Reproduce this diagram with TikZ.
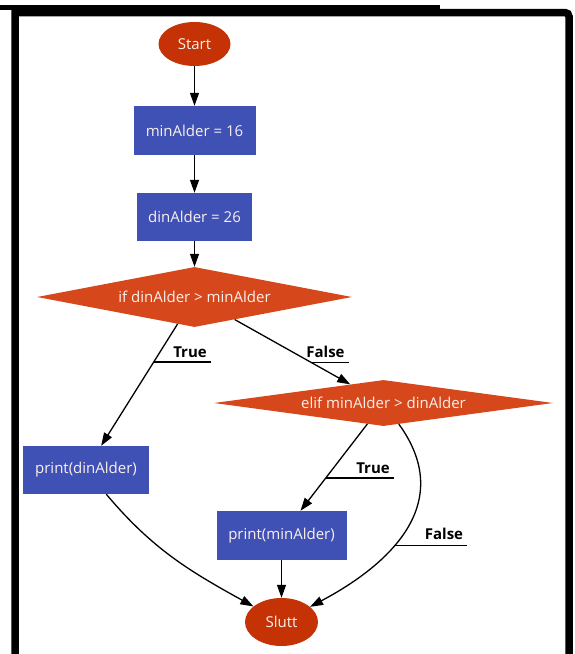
\documentclass[tikz,border=0pt]{standalone}
\usepackage{fontspec}
\setmainfont{Open Sans}
\usetikzlibrary{shapes.geometric, arrows.meta, calc}
\definecolor{termfill}{RGB}{196,50,5}
\definecolor{decfill}{RGB}{214,72,28}
\definecolor{procfill}{RGB}{63,81,181}
\definecolor{nodetext}{RGB}{250,240,235}

\begin{document}
\begin{tikzpicture}[x=1pt, y=1pt,
  nodefont/.style={font=\fontsize{15}{17}\selectfont},
  terminal/.style={ellipse, fill=termfill, text=nodetext, inner sep=0pt, nodefont},
  process/.style={rectangle, fill=procfill, text=nodetext, inner sep=0pt, nodefont},
  decision/.style={diamond, fill=decfill, text=nodetext, inner sep=0pt, nodefont},
  flow/.style={draw=black, line width=1.3pt, -{Triangle[length=13pt, width=9pt]}},
  edgelabel/.style={font=\bfseries\fontsize{15}{17}\selectfont, inner sep=0pt, anchor=base},
  uline/.style={draw=black, line width=1.3pt}]

  \useasboundingbox (0,0) rectangle (574,-654);

  % frame
  \fill[black] (0,-5) rectangle (440,-10);
  \draw[line width=7.5pt, line join=miter] (15,-670) -- (15,-12.5) -- (565,-12.5)
    arc[start angle=90, end angle=0, radius=4] -- (569,-670);

  % nodes
  \node[terminal, minimum width=72pt, minimum height=44pt] (start) at (194.5,-44) {Start};
  \node[process, minimum width=122pt, minimum height=49pt] (m1) at (194.5,-130.5) {minAlder = 16};
  \node[process, minimum width=115pt, minimum height=48pt] (m2) at (194.5,-217) {dinAlder = 26};
  \node[decision, aspect=5.25, minimum width=315pt, minimum height=60pt] (d1) at (194.5,-297) {if dinAlder > minAlder};
  \node[decision, aspect=7.37, minimum width=339pt, minimum height=46pt] (d2) at (383.5,-403) {elif minAlder > dinAlder};
  \node[process, minimum width=126pt, minimum height=48pt] (p1) at (86,-470) {print(dinAlder)};
  \node[process, minimum width=130pt, minimum height=49pt] (p2) at (281.5,-535.5) {print(minAlder)};
  \node[terminal, minimum width=73pt, minimum height=48pt] (sl) at (281.5,-622) {Slutt};

  % connectors
  \draw[flow] (start) -- (m1);
  \draw[flow] (m1) -- (m2);
  \draw[flow] (m2) -- (d1);
  \draw[flow] (d1) -- (p1);
  \draw[flow] (d1) -- (d2);
  \draw[flow] (d2) -- (p2);
  \draw[flow] (d2) to[out=-54, in=28, looseness=1.2] coordinate[pos=0.6] (e4) (sl);
  \draw[flow] (p1) to[out=-50, in=151] (sl);
  \draw[flow] (p2) -- (sl);

  % branch labels with their underlines
  \coordinate (e1) at ($(d1)!0.3765!(p1)$);
  \coordinate (e2) at ($(d1)!0.619!(d2)$);
  \coordinate (e3) at ($(d2)!0.566!(p2)$);

  \node[edgelabel] (t1) at (190,-357) {True};
  \node[edgelabel] (f1) at (325.5,-357) {False};
  \node[edgelabel] (t2) at (373,-473) {True};
  \node[edgelabel] (f2) at (444,-539) {False};

  \draw[uline] (e1) -- ([xshift=4pt]e1 -| t1.east);
  \draw[uline] (e2) -- ([xshift=4pt]e2 -| f1.east);
  \draw[uline] (e3) -- ([xshift=4pt]e3 -| t2.east);
  \draw[uline] (e4) -- ([xshift=4pt]e4 -| f2.east);
\end{tikzpicture}
\end{document}
